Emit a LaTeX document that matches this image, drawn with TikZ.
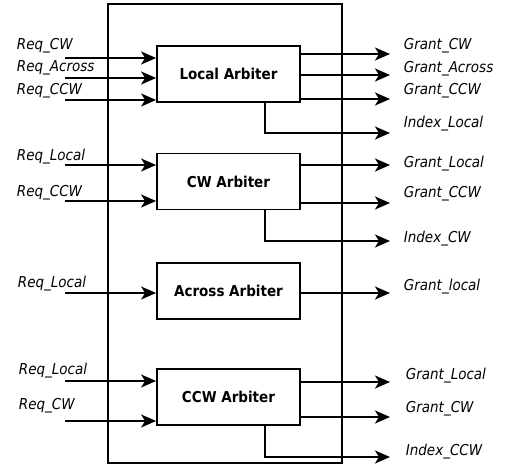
\documentclass[tikz,border=0pt]{standalone}
\usepackage{fontspec}
\setmainfont{DejaVu Sans Condensed}
\usetikzlibrary{arrows.meta,positioning}

\begin{document}
\begin{tikzpicture}[
      x=1pt,y=-1pt,
      arbiter/.style={
         rectangle,
         minimum width=143pt,
         minimum height=56pt,
         line width=1.8pt,
         draw=black,
         font=\bfseries\fontsize{15}{17}\selectfont
      },
      signal/.style={
         anchor=west,
         inner sep=0pt,
         font=\itshape\fontsize{15}{17}\selectfont
      },
      frame/.style={
         rectangle,
         line width=1.8pt,
         draw=black,
         minimum width=234pt,
         minimum height=459pt
      },
      tip/.style={-{Stealth[length=15pt,width=13pt,inset=4pt]}},
      line width=1.8pt,
    ]
    \useasboundingbox (0,0) rectangle (507,468);
    \node (chip) [frame] at (225,233.5) {};
    \node (local) [arbiter] at (228.5,74) {Local Arbiter};
    \node (cw) [arbiter] at (228.5,181.5) {CW Arbiter};
    \node (across) [arbiter] at (228.5,291) {Across Arbiter};
    \node (ccw) [arbiter] at (228.5,397) {CCW Arbiter};
    % inputs
    \node (lreq1) [signal] at (16,46) {Req\_CW};
    \node (lreq2) [signal] at (16,68) {Req\_Across};
    \node (lreq3) [signal] at (16,91) {Req\_CCW};
    \node (cwreq1) [signal] at (16,157) {Req\_Local};
    \node (cwreq2) [signal] at (16,193) {Req\_CCW};
    \node (areq1) [signal] at (17,284) {Req\_Local};
    \node (ccwreq1) [signal] at (18,371) {Req\_Local};
    \node (ccwreq2) [signal] at (18,406) {Req\_CW};
    % outputs
    \node (lgnt1) [signal] at (403,46) {Grant\_CW};
    \node (lgnt2) [signal] at (403,69) {Grant\_Across};
    \node (lgnt3) [signal] at (403,91) {Grant\_CCW};
    \node (lidx) [signal] at (403,124) {Index\_Local};
    \node (cwgnt1) [signal] at (403,164) {Grant\_Local};
    \node (cwgnt2) [signal] at (403,194) {Grant\_CCW};
    \node (cwidx) [signal] at (403,239) {Index\_CW};
    \node (agnt1) [signal] at (403,287) {Grant\_local};
    \node (ccwgnt1) [signal] at (405,376) {Grant\_Local};
    \node (ccwgnt2) [signal] at (405,409) {Grant\_CW};
    \node (ccwidx) [signal] at (405,452) {Index\_CCW};
    % wire ends
    \coordinate (lin1) at (65,58);
    \coordinate (lin2) at (65,78);
    \coordinate (lin3) at (65,100);
    \coordinate (cwin1) at (65,165);
    \coordinate (cwin2) at (65,201);
    \coordinate (ain1) at (65,293);
    \coordinate (ccwin1) at (65,381);
    \coordinate (ccwin2) at (65,421);
    \coordinate (lout1) at (390,54);
    \coordinate (lout2) at (390,75);
    \coordinate (lout3) at (390,99);
    \coordinate (lout4) at (390,133);
    \coordinate (cwout1) at (390,165);
    \coordinate (cwout2) at (390,203);
    \coordinate (cwout3) at (390,241);
    \coordinate (aout1) at (390,293);
    \coordinate (ccwout1) at (390,382);
    \coordinate (ccwout2) at (390,417);
    \coordinate (ccwout3) at (390,457);
    \draw[tip] (lin1) -- (lin1 -| local.west);
    \draw[tip] (lin2) -- (lin2 -| local.west);
    \draw[tip] (lin3) -- (lin3 -| local.west);
    \draw[tip] (cwin1) -- (cwin1 -| cw.west);
    \draw[tip] (cwin2) -- (cwin2 -| cw.west);
    \draw[tip] (ain1) -- (ain1 -| across.west);
    \draw[tip] (ccwin1) -- (ccwin1 -| ccw.west);
    \draw[tip] (ccwin2) -- (ccwin2 -| ccw.west);
    \draw[tip] (lout1 -| local.east) -- (lout1);
    \draw[tip] (lout2 -| local.east) -- (lout2);
    \draw[tip] (lout3 -| local.east) -- (lout3);
    \draw[tip] ([xshift=-36pt]local.south east) |- (lout4);
    \draw[tip] (cwout1 -| cw.east) -- (cwout1);
    \draw[tip] (cwout2 -| cw.east) -- (cwout2);
    \draw[tip] ([xshift=-36pt]cw.south east) |- (cwout3);
    \draw[tip] (aout1 -| across.east) -- (aout1);
    \draw[tip] (ccwout1 -| ccw.east) -- (ccwout1);
    \draw[tip] (ccwout2 -| ccw.east) -- (ccwout2);
    \draw[tip] ([xshift=-36pt]ccw.south east) |- (ccwout3);
\end{tikzpicture}
\end{document}
